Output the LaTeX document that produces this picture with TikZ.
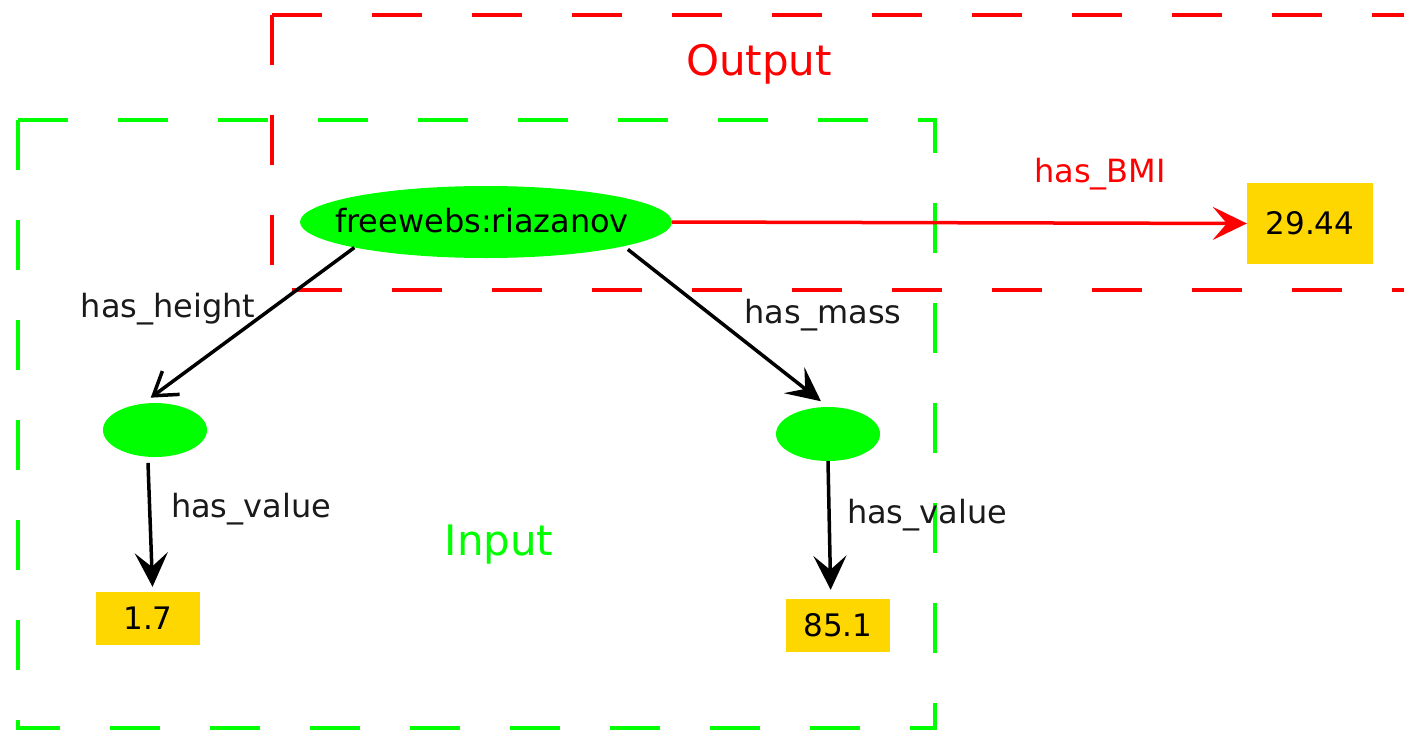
\documentclass[tikz,border=0pt]{standalone}
\usepackage{fontspec}
\setmainfont{DejaVu Sans}
\usetikzlibrary{shapes.geometric,arrows.meta}
\definecolor{brightgreen}{HTML}{00FF00}
\definecolor{valgold}{HTML}{FFD700}
\definecolor{boxred}{HTML}{FF0000}
\definecolor{labelink}{HTML}{1A1A1A}
\begin{document}
\begin{tikzpicture}[x=1pt,y=-1pt,
  lbl/.style={font=\fontsize{32}{37}\selectfont, text=labelink, inner sep=0pt, anchor=base},
  title/.style={font=\fontsize{42}{48}\selectfont, inner sep=0pt, anchor=base},
  res/.style={ellipse, fill=brightgreen, inner sep=0pt},
  val/.style={rectangle, fill=valgold, inner sep=0pt, font=\fontsize{31}{36}\selectfont},
  conn/.style={draw=black, line width=3.5pt},
  fat/.style={-{Stealth[length=34pt,width=33pt,inset=14pt]}},
  barb/.style={-{Straight Barb[length=22pt,width=29pt]}},
  region/.style={line width=4pt, dash pattern=on 50pt off 50pt}
]
\useasboundingbox (0,0) rectangle (1404,731);
\fill[white] (0,0) rectangle (1404,731);

% output region (red)
\draw[region, draw=boxred] (272,15) -- (1420,15);
\draw[region, draw=boxred] (272,15) -- (272,290);
\draw[region, draw=boxred, dash phase=80pt] (272,290) -- (1420,290);

% input region (green)
\draw[region, draw=brightgreen] (18,120) -- (935,120) -- (935,728) -- (18,728) -- cycle;

% nodes
\node[res, minimum width=372pt, minimum height=72pt] (subj) at (486,222) {};
\node[inner sep=0pt, font=\fontsize{32}{37}\selectfont] (subjtext) at (482,221) {freewebs:riazanov};
\node[res, minimum width=104pt, minimum height=54pt] (hnode) at (155,430) {};
\node[res, minimum width=104pt, minimum height=54pt] (mnode) at (828,434) {};
\node[val, minimum width=104pt, minimum height=53pt] (hval) at (148,618.5) {1.7};
\node[val, minimum width=104pt, minimum height=53pt] (mval) at (838,625.5) {85.1};
\node[val, minimum width=126pt, minimum height=81pt] (bmi) at (1310,223.5) {29.44};

% connectors
\draw[conn, barb, shorten >=10pt] (subj.191) -- (hnode.115);
\draw[conn, fat, shorten <=5pt, shorten >=9pt] (subj.-10) -- (mnode.north);
\draw[conn, fat, shorten <=6pt, shorten >=5pt] (hnode.255) -- (hval.80);
\draw[conn, fat, shorten >=9pt] (mnode.south) -- (mval.105);
\draw[conn, draw=boxred, fat] (subj.east) -- (bmi.west);

% labels
\node[lbl] (lh) at (168,317) {has\_height};
\node[lbl] (lm) at (823,323) {has\_mass};
\node[lbl] (lv1) at (251,517) {has\_value};
\node[lbl] (lv2) at (927,523) {has\_value};
\node[lbl, text=boxred] (lb) at (1100,182) {has\_BMI};
\node[title, text=boxred] (tout) at (759,75) {Output};
\node[title, text=brightgreen] (tin) at (499,555) {Input};
\end{tikzpicture}
\end{document}
